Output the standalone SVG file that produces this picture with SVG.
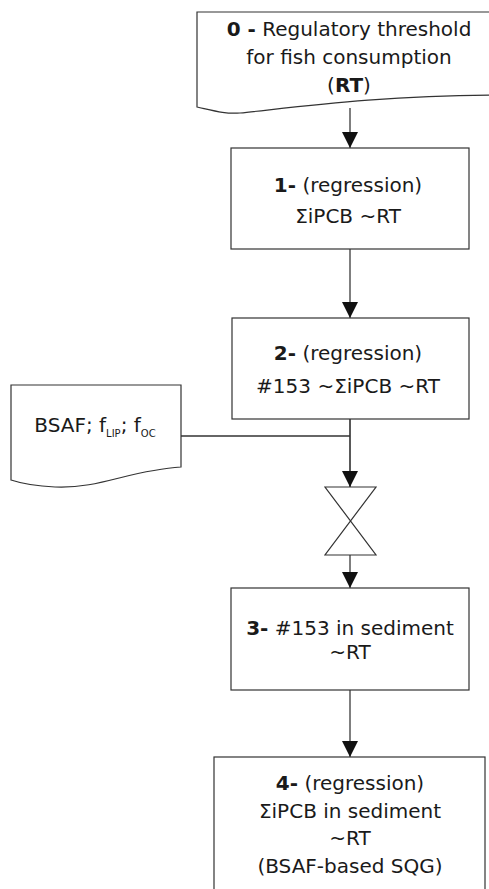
<svg xmlns="http://www.w3.org/2000/svg" width="489" height="889" viewBox="0 0 489 889">
<defs>
<style>
.shape{fill:#fff;stroke:#333;stroke-width:1.2}
.conn{fill:none;stroke:#555;stroke-width:1.5}
text{font-family:"DejaVu Sans","Liberation Sans",sans-serif;font-size:20px;fill:#1a1a1a;text-anchor:middle}
.b{font-weight:bold}
.sub{font-size:10px}
</style>
<marker id="arr" markerUnits="userSpaceOnUse" markerWidth="16" markerHeight="16" viewBox="0 0 16 16" refX="16" refY="8" orient="auto">
<path d="M0,0 L16,8 L0,16 Z" fill="#111"/>
</marker>
</defs>
<rect width="489" height="889" fill="#fff"/>
<g id="connectors">
<line class="conn" x1="350" y1="108" x2="350" y2="148" marker-end="url(#arr)"/>
<line class="conn" x1="350" y1="249" x2="350" y2="318" marker-end="url(#arr)"/>
<line class="conn" x1="350" y1="419" x2="350" y2="487" marker-end="url(#arr)" style="stroke:#222"/>
<line class="conn" x1="181" y1="436" x2="350" y2="436" style="stroke:#333"/>
<line class="conn" x1="350" y1="555" x2="350" y2="588" marker-end="url(#arr)"/>
<line class="conn" x1="350" y1="690" x2="350" y2="757" marker-end="url(#arr)"/>
</g>
<g id="node0">
<path class="shape" d="M197,12 H505 V95 C 380,95 290,108 240,113 C 225,114 215,111 197,107 Z"/>
<text x="349" y="36"><tspan class="b">0 -</tspan> Regulatory threshold</text>
<text x="349" y="64">for fish consumption</text>
<text x="349" y="92">(<tspan class="b">RT</tspan>)</text>
</g>
<g id="node1">
<rect class="shape" x="231" y="148" width="238" height="101"/>
<text x="348" y="192"><tspan class="b">1-</tspan> (regression)</text>
<text x="348" y="223">ΣiPCB ~RT</text>
</g>
<g id="node2">
<rect class="shape" x="232" y="318" width="237" height="101"/>
<text x="348" y="360"><tspan class="b">2-</tspan> (regression)</text>
<text x="348" y="393">#153 ~ΣiPCB ~RT</text>
</g>
<g id="bsaf">
<path class="shape" d="M11,385 H181 V467 C 130,470 100,489 55,487 C 35,486 20,483 11,480 Z"/>
<text x="95" y="432">BSAF; f<tspan class="sub" dy="5">LIP</tspan><tspan dy="-5">; f</tspan><tspan class="sub" dy="5">OC</tspan></text>
</g>
<g id="collate">
<path class="shape" d="M325,487 L376,487 L325,555 L376,555 Z"/>
</g>
<g id="node3">
<rect class="shape" x="231" y="588" width="238" height="102"/>
<text x="350" y="635"><tspan class="b">3-</tspan> #153 in sediment</text>
<text x="350" y="659">~RT</text>
</g>
<g id="node4">
<rect class="shape" x="214" y="757" width="271" height="150"/>
<text x="350" y="790"><tspan class="b">4-</tspan> (regression)</text>
<text x="350" y="818">ΣiPCB in sediment</text>
<text x="350" y="845">~RT</text>
<text x="350" y="873">(BSAF-based SQG)</text>
</g>
</svg>
